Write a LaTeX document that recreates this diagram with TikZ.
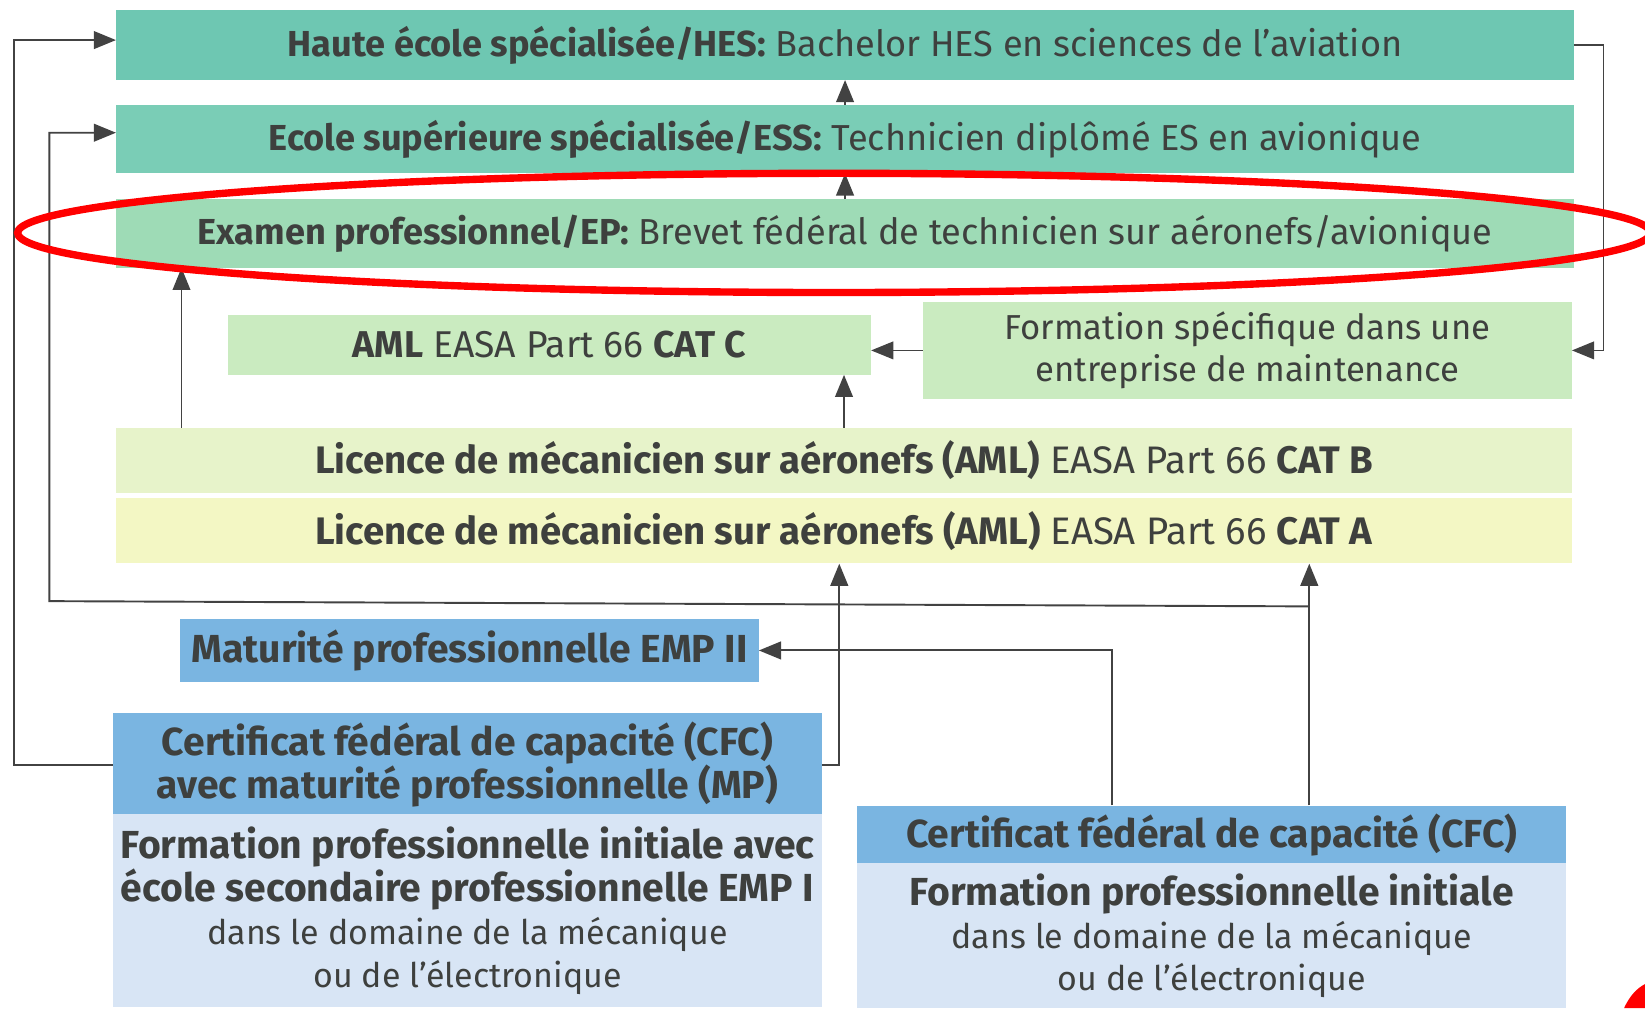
\documentclass[tikz,border=0pt]{standalone}
\usepackage{fontspec}
\setmainfont{Fira Sans}
\usetikzlibrary{arrows.meta}
\definecolor{txt}{RGB}{62,64,62}
\definecolor{ln}{RGB}{66,66,66}
\definecolor{hesc}{RGB}{110,199,178}
\definecolor{essc}{RGB}{122,205,182}
\definecolor{epc}{RGB}{158,219,182}
\definecolor{catcc}{RGB}{202,235,192}
\definecolor{catbc}{RGB}{231,243,202}
\definecolor{catac}{RGB}{243,247,196}
\definecolor{bluec}{RGB}{122,181,225}
\definecolor{lbluec}{RGB}{216,229,245}
\newcommand{\boxfont}{\fontsize{24.5}{29}\selectfont}
\newcommand{\bigfont}{\fontsize{26.5}{29}\selectfont}
\newcommand{\smallfont}{\fontsize{23}{29}\selectfont}

\begin{document}
\begin{tikzpicture}[x=0.025cm, y=-0.025cm,
    box/.style={inner sep=0pt, fill=#1, text=txt, align=center, font=\boxfont},
    arr/.style={draw=ln, line width=1.3pt, -{Triangle[length=15pt,width=12pt]}}]
    \useasboundingbox (0,0) rectangle (1568,961);
    \clip (0,0) rectangle (1568,961);
    % boxes
    \node[box=hesc,  minimum width=34.725cm, minimum height=1.65cm]  (hes)  at (805.5,43)    {\textbf{Haute école spécialisée/HES:} Bachelor HES en sciences de l’aviation};
    \node[box=essc,  minimum width=34.725cm, minimum height=1.625cm] (ess)  at (805.5,132.5) {\textbf{Ecole supérieure spécialisée/ESS:} Technicien diplômé ES en avionique};
    \node[box=epc,   minimum width=34.725cm, minimum height=1.625cm] (ep)   at (805.5,222.5) {\textbf{Examen professionnel/EP:} Brevet fédéral de technicien sur aéronefs/avionique};
    \node[box=catcc, minimum width=15.325cm, minimum height=1.425cm, font=\fontsize{25.3}{29}\selectfont] (catc) at (523.5,328.5) {\textbf{AML} EASA Part 66 \textbf{CAT C}};
    \node[box=catcc, minimum width=15.45cm,  minimum height=2.3cm, font=\fontsize{23.5}{28.5}\selectfont] (spec) at (1189,334) {Formation spécifique dans une\\entreprise de maintenance};
    \node[box=catbc, minimum width=34.675cm, minimum height=1.55cm, font=\fontsize{26}{29}\selectfont] (catb) at (804.5,439) {\textbf{Licence de mécanicien sur aéronefs (AML)} EASA Part 66 \textbf{CAT B}};
    \node[box=catac, minimum width=34.675cm, minimum height=1.55cm, font=\fontsize{26}{29}\selectfont] (cata) at (804.5,506) {\textbf{Licence de mécanicien sur aéronefs (AML)} EASA Part 66 \textbf{CAT A}};
    \node[box=bluec, minimum width=13.775cm, minimum height=1.5cm, font=\bigfont]   (mat)  at (447.5,620) {\textbf{Maturité professionnelle EMP II}};
    \node[box=bluec, minimum width=16.875cm, minimum height=2.45cm, font=\bigfont]  (cfcl) at (445.5,729) {\textbf{Certificat fédéral de capacité (CFC)}\\\textbf{avec maturité professionnelle (MP)}};
    \node[box=lbluec, minimum width=16.875cm, minimum height=4.6cm, font=\bigfont] (fpil) at (445.5,868) {\textbf{Formation professionnelle initiale avec}\\\textbf{école secondaire professionnelle EMP I}\\{\smallfont dans le domaine de la mécanique}\\{\smallfont ou de l’électronique}};
    \node[box=bluec, minimum width=16.9cm,  minimum height=1.375cm, font=\bigfont] (cfcr) at (1155,795.5) {\textbf{Certificat fédéral de capacité (CFC)}};
    \node[box=lbluec, minimum width=16.9cm, minimum height=3.45cm, font=\bigfont]  (fpir) at (1155,892) {\textbf{Formation professionnelle initiale}\\{\smallfont dans le domaine de la mécanique}\\{\smallfont ou de l’électronique}};
    \coordinate (j1) at (1248,578);
    \coordinate (l1) at (47,573);
    \coordinate (j2) at (800,730);
    \coordinate (j3) at (1060,625);
    \coordinate (j4) at (173,0);
    % arrows
    \draw[arr] (ess) -- (hes);
    \draw[arr] (ep) -- (ess);
    \draw[arr, line width=1pt] (catb.north -| j4) -- (ep.south -| j4);
    \draw[arr] (catb.north) -- (catb.north |- catc.south);
    \draw[arr, line width=0.9pt] (spec.west) -- (spec.west -| catc.east);
    \draw[arr, line width=1pt] (hes.east) -- ++(28,0) |- (spec.east);
    \draw[arr] (cfcr.north -| j1) -- (cata.south -| j1);
    \draw[arr] (j1) -- (l1) |- ([yshift=0.15cm]ess.west);
    \draw[arr] (cfcl.west) -- ++(-94,0) |- ([yshift=0.12cm]hes.west);
    \draw[arr] (cfcl.east) -| (cata.south -| j2);
    \draw[arr] (cfcr.north -| j3) |- (mat.east);
    % red mark
    \draw[red, line width=5pt] (795,222) ellipse [x radius=19.45cm, y radius=1.42cm];
    \fill[red] (1548,961) .. controls (1553,950) and (1560,942) .. (1568,938) -- (1568,961) -- cycle;
\end{tikzpicture}
\end{document}
